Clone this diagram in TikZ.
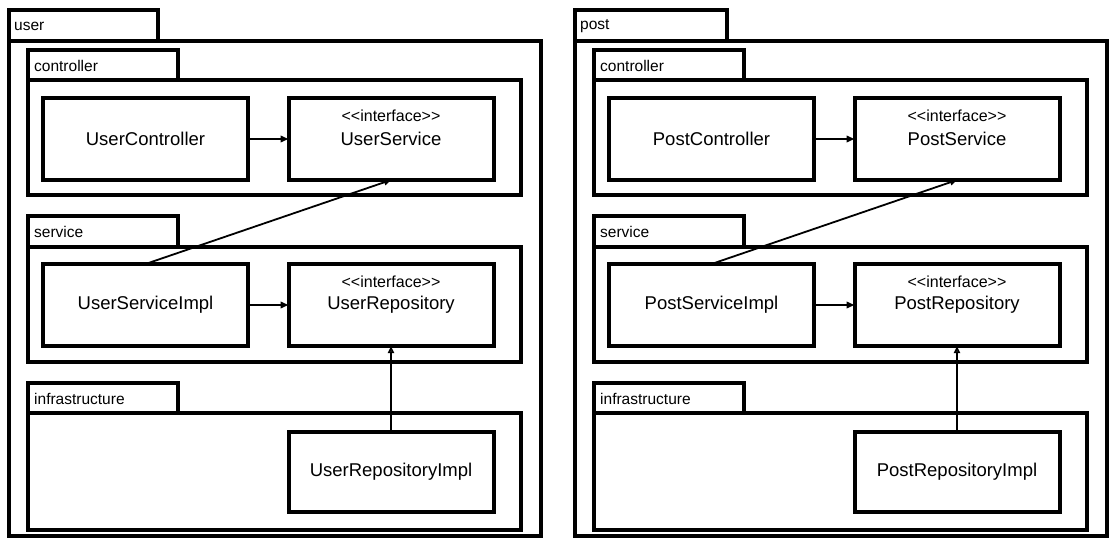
\documentclass[tikz,border=0pt]{standalone}
\usepackage{fontspec}
\setmainfont{Liberation Sans}
\usetikzlibrary{arrows.meta}

\tikzset{
  pkg/.style={line width=4pt},
  cls/.style={draw,line width=4pt,minimum width=205pt,minimum height=82pt,
    inner sep=0pt,outer sep=0pt,font=\fontsize{18.5}{21}\selectfont},
  iface/.style={cls,label={[stereotxt,anchor=north,yshift=-12pt]north:\stereo}},
  stereotxt/.style={inner sep=0pt,font=\fontsize{16}{18}\selectfont},
  tabtext/.style={anchor=west,inner sep=0pt,font=\fontsize{15.5}{17}\selectfont},
  dep/.style={-{Triangle[length=8pt,width=6.5pt]},line width=2pt},
  real/.style={-{Triangle[open,length=7pt,width=6pt]},line width=1.8pt},
}
\newcommand\stereo{<\kern0pt<interface>\kern0pt>}

\begin{document}
\begin{tikzpicture}[x=1pt,y=-1pt,line join=miter]
\useasboundingbox (0,0) rectangle (1113,540);
\foreach \pk/\nm/\dx/\tw in {user/User/0/158,post/Post/566/161}{
\begin{scope}[xshift=\dx]
% outer package
\draw[pkg] (9,10) rectangle (\tw,41);
\draw[pkg] (9,41) rectangle (541,536);
\node[tabtext] (\pk-tab) at (14,26) {\pk};
% controller
\draw[pkg] (28,50) rectangle (178,80);
\draw[pkg] (28,80) rectangle (521,195);
\node[tabtext] (\pk-ctrltab) at (34,66) {controller};
% service
\draw[pkg] (28,216) rectangle (178,247);
\draw[pkg] (28,247) rectangle (521,362);
\node[tabtext] (\pk-svctab) at (34,232) {service};
% infrastructure
\draw[pkg] (28,383) rectangle (178,413);
\draw[pkg] (28,413) rectangle (521,530);
\node[tabtext] (\pk-infratab) at (34,399) {infrastructure};
% classes
\node[cls] (\pk-ctrl) at (145.5,139) {\nm Controller};
\node[iface] (\pk-svc) at (391,139) {\nm Service};
\node[cls] (\pk-impl) at (145.5,305) {\nm ServiceImpl};
\node[iface] (\pk-repo) at (391,305) {\nm Repository};
\node[cls,minimum height=80pt] (\pk-repoimpl) at (391,472) {\nm RepositoryImpl};
% relations
\draw[dep] (\pk-ctrl) -- (\pk-svc);
\draw[dep] (\pk-impl) -- (\pk-repo);
\draw[real] (\pk-impl.north) -- (\pk-svc.south);
\draw[real] (\pk-repoimpl.north) -- (\pk-repo.south);
\end{scope}
}
\end{tikzpicture}
\end{document}
